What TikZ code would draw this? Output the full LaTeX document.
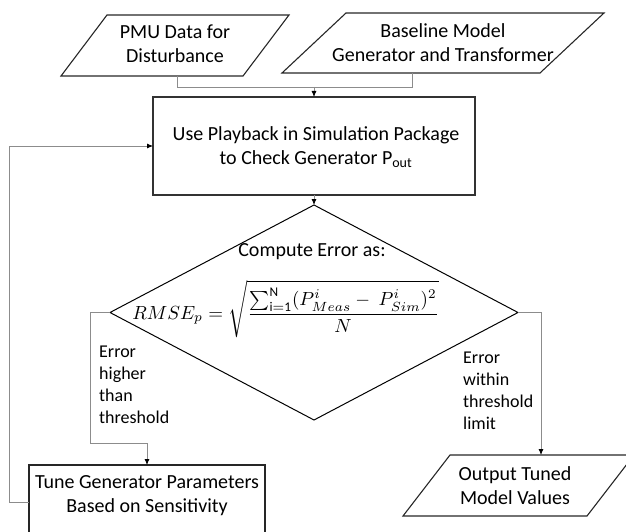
\documentclass[tikz,border=0pt]{standalone}
\usepackage{fontspec}
\usepackage{amsmath}
\setmainfont{Carlito}
\usetikzlibrary{arrows.meta,shapes.geometric}
\begin{document}
\begin{tikzpicture}[x=1pt,y=-1pt,
  outl/.style={draw=black!85, line width=1.1pt},
  conn/.style={draw=black!45, line width=0.8pt},
  arr/.style={conn, -{Latex[length=6pt,width=5pt,color=black]}},
  txt/.style={font=\fontsize{20}{24}\selectfont, align=center, inner sep=0},
  lbl/.style={font=\fontsize{18}{21.8}\selectfont, align=left, inner sep=0, anchor=north west},
]
\useasboundingbox (0,0) rectangle (626,532);
% top inputs
\draw[outl] (61,76) -- (107,15) -- (289,15) -- (243,76) -- cycle;
\node[txt] (pmu) at (175,44) {PMU Data for\\Disturbance};
\draw[outl] (282,73) -- (346,13) -- (604,13) -- (540,73) -- cycle;
\node[txt] (base) at (443,43) {Baseline Model\\Generator and Transformer};
% main box
\node[draw=black!80, line width=1.3pt, minimum width=322, minimum height=98, inner sep=0, outer sep=0] (play) at (314,146) {};
\node[txt] (playt) at (316,147) {Use Playback in Simulation Package\\to Check Generator P\textsubscript{out}};
% decision
\node[draw=black, line width=1pt, diamond, minimum width=408, minimum height=215, inner sep=0, outer sep=0] (dia) at (314,312.5) {};
\node[txt] (cmp) at (312,252) {Compute Error as:};
\node[font=\fontsize{10}{12}\selectfont, scale=1.9, inner sep=0, anchor=base west] (eq) at (132,319)
  {$RMSE_p = \sqrt{\dfrac{\sum\nolimits_{\mathrm{i=1}}^{\mathrm{N}}(P^{i}_{Meas} -\ P^{i}_{Sim})^2}{N}}$};
% tune box
\node[draw=black!85, line width=1.2pt, minimum width=236, minimum height=80, anchor=north, inner sep=0, outer sep=0] (tune) at (147,465) {};
\node[txt] (tunet) at (147,496) {Tune Generator Parameters\\Based on Sensitivity};
% output
\draw[outl] (403,516) -- (450,455) -- (634,455) -- (587,516) -- cycle;
\node[txt] (outt) at (515,486) {Output Tuned\\Model Values};
% labels
\node[lbl] (hi) at (99,346) {Error\\higher\\than\\threshold};
\node[lbl] (lo) at (463,352) {Error\\within\\threshold\\limit};
% connector points
\coordinate (pmuB) at (177,76);
\coordinate (baseB) at (412,73);
\coordinate (join) at (314,87);
\coordinate (leftDown) at (90,443);
\coordinate (outT) at (541,455);
\coordinate (tuneL) at (29,502);
\coordinate (loopTop) at (9,146);
% connectors
\draw[conn] (pmuB) |- (join);
\draw[conn] (baseB) |- (join);
\draw[arr] (join) -- (play.north);
\draw[arr] (play.south) -- (dia.north);
\draw[arr] (dia.west) -| (leftDown) -| (tune.north);
\draw[arr] (dia.east) -| (outT);
\draw[arr] (tuneL) -| (loopTop) -- (play.west);
\end{tikzpicture}
\end{document}
